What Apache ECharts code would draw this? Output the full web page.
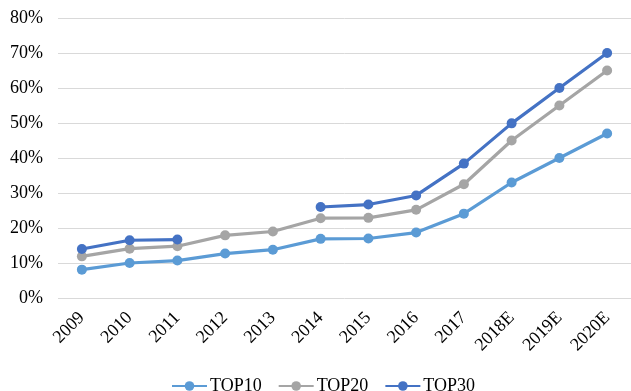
<!DOCTYPE html>
<html>
<head>
<meta charset="utf-8">
<script src="https://cdn.jsdelivr.net/npm/echarts@6/dist/echarts.min.js"></script>
<style>
  html, body { margin: 0; padding: 0; background: #fff; }
  #chart { width: 631px; height: 391px; }
</style>
</head>
<body>
<div id="chart"></div>
<script>
// Market share of the top 10 / 20 / 30 players, by year (E = estimate)
const years = ['2009', '2010', '2011', '2012', '2013', '2014', '2015', '2016', '2017', '2018E', '2019E', '2020E'];
const top10 = [8.1, 10.0, 10.7, 12.7, 13.8, 16.9, 17.0, 18.7, 24.1, 33.0, 40.0, 47.0];
const top20 = [11.9, 14.1, 14.8, 17.9, 19.0, 22.8, 22.9, 25.2, 32.5, 45.0, 55.0, 65.0];
const top30 = [14.0, 16.5, 16.7, null, null, 26.0, 26.7, 29.3, 38.4, 49.9, 60.0, 70.0];
const yTicks = [0, 10, 20, 30, 40, 50, 60, 70, 80];

const FONT = '"Liberation Serif", "Times New Roman", serif';

function lineSeries(name, data, color) {
  return {
    name: name,
    type: 'line',
    data: data,
    symbol: 'circle',
    symbolSize: 10,
    connectNulls: false,
    lineStyle: { width: 3.2, color: color },
    itemStyle: { color: color },
    emphasis: { disabled: true }
  };
}

const chart = echarts.init(document.getElementById('chart'), null, { renderer: 'canvas' });
chart.setOption({
  animation: false,
  backgroundColor: '#ffffff',
  grid: { left: 58, right: 0, top: 18, bottom: 93 },
  legend: {
    top: 377,
    left: 171,
    padding: 0,
    itemWidth: 35,
    itemHeight: 12,
    itemGap: 16,
    textStyle: { fontFamily: FONT, fontSize: 18, color: '#000', padding: [0, 0, 0, -2] },
    data: ['TOP10', 'TOP20', 'TOP30']
  },
  xAxis: {
    type: 'category',
    data: years,
    boundaryGap: true,
    axisLine: { show: false },
    axisTick: { show: false },
    axisLabel: {
      rotate: 45,
      margin: 17,
      interval: 0,
      fontFamily: FONT,
      fontSize: 18,
      color: '#000'
    }
  },
  yAxis: {
    type: 'value',
    min: yTicks[0],
    max: yTicks[yTicks.length - 1],
    interval: 10,
    axisLine: { show: false },
    axisTick: { show: false },
    splitLine: { lineStyle: { color: '#d9d9d9', width: 1 } },
    axisLabel: {
      margin: 15,
      fontFamily: FONT,
      fontSize: 18,
      color: '#000',
      formatter: v => v + '%'
    }
  },
  series: [
    lineSeries('TOP10', top10, '#5B9BD5'),
    lineSeries('TOP20', top20, '#A5A5A5'),
    lineSeries('TOP30', top30, '#4472C4')
  ]
});
</script>
</body>
</html>
